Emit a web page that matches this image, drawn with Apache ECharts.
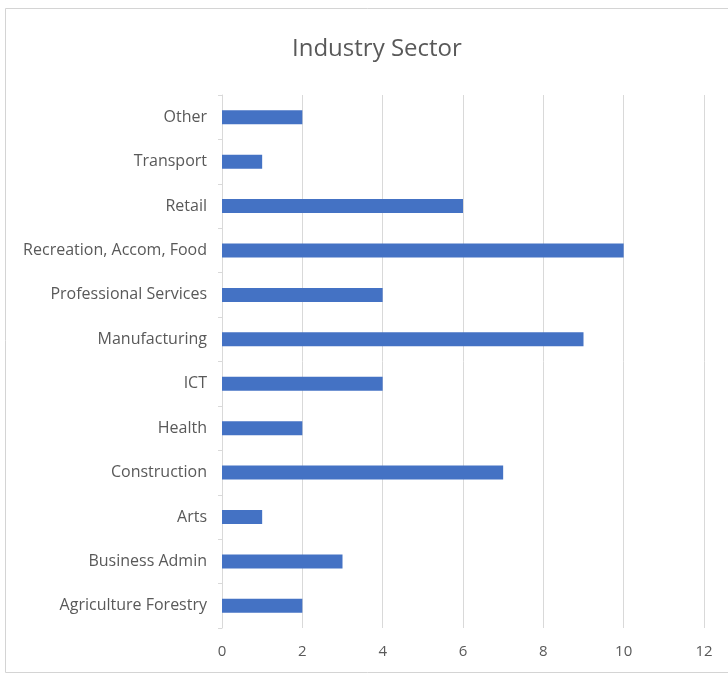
<!DOCTYPE html>
<html><head><meta charset="utf-8">
<script src="https://cdn.jsdelivr.net/npm/echarts@6/dist/echarts.min.js"></script>
<style>html,body{margin:0;padding:0;background:#fff}#c{width:728px;height:675px}</style>
</head><body><div id="c"></div>
<script>
const categories = ['Agriculture Forestry','Business Admin','Arts','Construction','Health','ICT','Manufacturing','Professional Services','Recreation, Accom, Food','Retail','Transport','Other'];
const values = [2,3,1,7,2,4,9,4,10,6,1,2];
const xTicks = {min:0, max:12, interval:2};
const FONT = "'Open Sans',sans-serif";
const chart = echarts.init(document.getElementById('c'), null, {renderer:'canvas'});
chart.setOption({
  animation:false,
  backgroundColor:'#fff',
  title:{text:'Industry Sector', left:287, top:32,
    textStyle:{fontFamily:FONT, fontSize:24, fontWeight:'normal', color:'#595959'}},
  graphic:[{type:'rect', shape:{x:5.5,y:8.5,width:740,height:664}, style:{fill:'none', stroke:'#d4d4d4', lineWidth:1}, silent:true}],
  grid:{left:222, right:24, top:95, bottom:47, containLabel:false},
  xAxis:{type:'value', min:xTicks.min, max:xTicks.max, interval:xTicks.interval,
    axisLine:{show:false}, axisTick:{show:false},
    splitLine:{lineStyle:{color:'#d9d9d9', width:1}},
    axisLabel:{fontFamily:FONT, fontSize:15, color:'#595959', margin:16}},
  yAxis:{type:'category', data:categories,
    axisLine:{show:true, lineStyle:{color:'#d9d9d9'}},
    axisTick:{show:true, length:4, lineStyle:{color:'#d9d9d9'}},
    axisLabel:{fontFamily:FONT, fontSize:16, color:'#595959', margin:15}},
  series:[{type:'bar', data:values, barWidth:14,
    itemStyle:{color:'#4472c4'}}]
});
</script></body></html>
